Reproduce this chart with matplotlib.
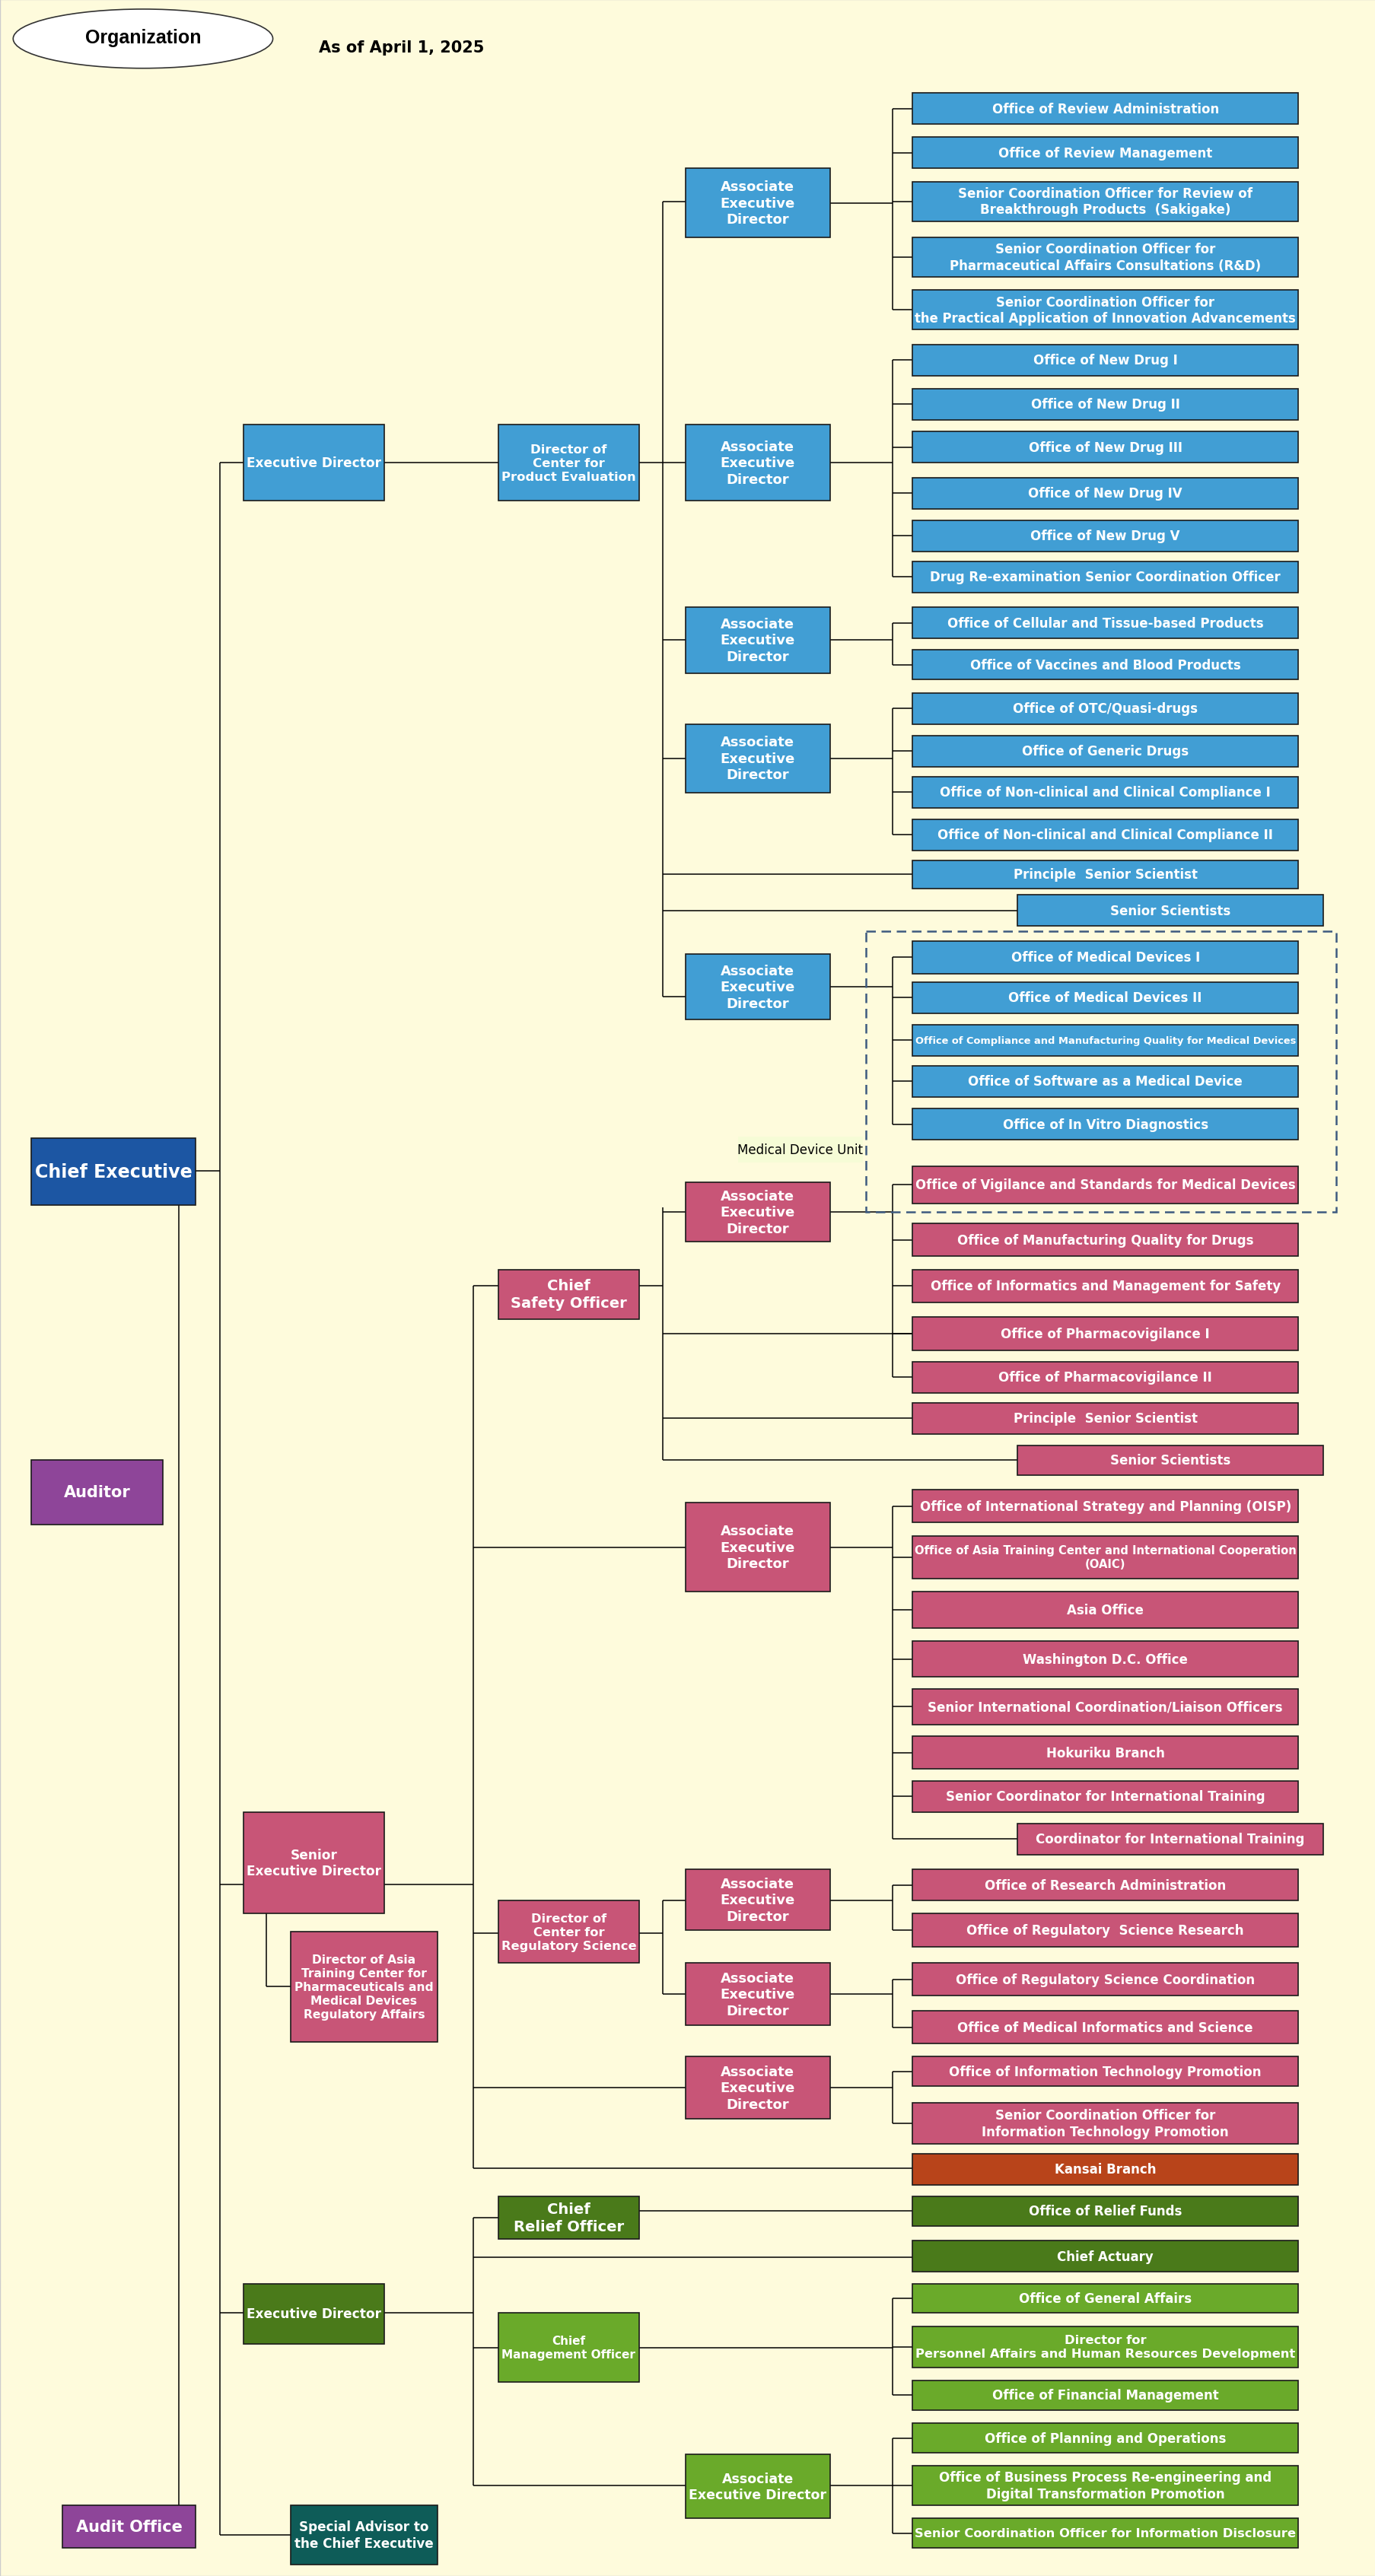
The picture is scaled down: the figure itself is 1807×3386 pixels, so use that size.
import matplotlib
matplotlib.use("Agg")
import matplotlib.pyplot as plt
from matplotlib.patches import Rectangle, Ellipse
from matplotlib import font_manager as fm

names = {f.name for f in fm.fontManager.ttflist}
FONT = "Liberation Sans Narrow" if "Liberation Sans Narrow" in names else "DejaVu Sans Condensed" if "DejaVu Sans Condensed" in names else "DejaVu Sans"

BLUE = "#419ED4"; PINK = "#C85577"; DGREEN = "#4A7A1A"; LGREEN = "#6AAA2A"
ORANGE = "#B8441A"; NAVY = "#1C56A3"; PURPLE = "#8E4599"; TEAL = "#0E5C58"
BG = "#FEFBDC"

W, H = 837, 1568
fig = plt.figure(figsize=(18.08, 33.87), dpi=100)
fig.patch.set_facecolor(BG)
ax = fig.add_axes([0, 0, 1, 1])
ax.set_xlim(0, W); ax.set_ylim(H, 0); ax.axis("off")
ax.add_patch(Rectangle((0, 0), W, H, facecolor=BG, edgecolor="#cccccc", lw=1))

OX0, OX1 = 555, 790
SX0, SX1 = 619, 805

# (label, x0, y0, x1, y1, color, fontsize)
boxes = [
    ("Chief Executive", 19, 693, 119, 734, NAVY, 19),
    ("Auditor", 19, 889, 99, 928, PURPLE, 15),
    ("Audit Office", 38, 1525, 119, 1551, PURPLE, 15),
    ("Special Advisor to\nthe Chief Executive", 177, 1525, 266, 1561, TEAL, 14),
    ("Executive Director", 148, 259, 234, 305, BLUE, 15),
    ("Director of\nCenter for\nProduct Evaluation", 303, 259, 389, 305, BLUE, 14),
    ("Associate\nExecutive\nDirector", 417, 103, 505, 145, BLUE, 13),
    ("Associate\nExecutive\nDirector", 417, 259, 505, 305, BLUE, 13),
    ("Associate\nExecutive\nDirector", 417, 370, 505, 410, BLUE, 13),
    ("Associate\nExecutive\nDirector", 417, 441, 505, 483, BLUE, 13),
    ("Associate\nExecutive\nDirector", 417, 581, 505, 621, BLUE, 13),
    ("Associate\nExecutive\nDirector", 417, 720, 505, 756, PINK, 13),
    ("Chief\nSafety Officer", 303, 773, 389, 803, PINK, 14),
    ("Associate\nExecutive\nDirector", 417, 915, 505, 969, PINK, 13),
    ("Senior\nExecutive Director", 148, 1103, 234, 1165, PINK, 15),
    ("Director of Asia\nTraining Center for\nPharmaceuticals and\nMedical Devices\nRegulatory Affairs", 177, 1176, 266, 1243, PINK, 14),
    ("Director of\nCenter for\nRegulatory Science", 303, 1157, 389, 1195, PINK, 14),
    ("Associate\nExecutive\nDirector", 417, 1138, 505, 1175, PINK, 13),
    ("Associate\nExecutive\nDirector", 417, 1195, 505, 1233, PINK, 13),
    ("Associate\nExecutive\nDirector", 417, 1252, 505, 1290, PINK, 13),
    ("Executive Director", 148, 1390, 234, 1427, DGREEN, 15),
    ("Chief\nRelief Officer", 303, 1337, 389, 1363, DGREEN, 14),
    ("Chief\nManagement Officer", 303, 1408, 389, 1450, LGREEN, 14),
    ("Associate\nExecutive Director", 417, 1494, 505, 1533, LGREEN, 14),
]

office_labels = [
    "Office of Review Administration", "Office of Review Management",
    "Senior Coordination Officer for Review of\nBreakthrough Products  (Sakigake)",
    "Senior Coordination Officer for\nPharmaceutical Affairs Consultations (R&D)",
    "Senior Coordination Officer for\nthe Practical Application of Innovation Advancements",
    "Office of New Drug I", "Office of New Drug II", "Office of New Drug III",
    "Office of New Drug IV", "Office of New Drug V", "Drug Re-examination Senior Coordination Officer",
    "Office of Cellular and Tissue-based Products", "Office of Vaccines and Blood Products",
    "Office of OTC/Quasi-drugs", "Office of Generic Drugs",
    "Office of Non-clinical and Clinical Compliance I", "Office of Non-clinical and Clinical Compliance II",
    "Principle  Senior Scientist", "Senior Scientists",
    "Office of Medical Devices I", "Office of Medical Devices II",
    "Office of Compliance and Manufacturing Quality for Medical Devices",
    "Office of Software as a Medical Device", "Office of In Vitro Diagnostics",
    "Office of Vigilance and Standards for Medical Devices", "Office of Manufacturing Quality for Drugs",
    "Office of Informatics and Management for Safety", "Office of Pharmacovigilance I",
    "Office of Pharmacovigilance II", "Principle  Senior Scientist", "Senior Scientists",
    "Office of International Strategy and Planning (OISP)",
    "Office of Asia Training Center and International Cooperation\n(OAIC)",
    "Asia Office", "Washington D.C. Office", "Senior International Coordination/Liaison Officers",
    "Hokuriku Branch", "Senior Coordinator for International Training", "Coordinator for International Training",
    "Office of Research Administration", "Office of Regulatory  Science Research",
    "Office of Regulatory Science Coordination", "Office of Medical Informatics and Science",
    "Office of Information Technology Promotion",
    "Senior Coordination Officer for\nInformation Technology Promotion",
    "Kansai Branch",
    "Office of Relief Funds", "Chief Actuary", "Office of General Affairs",
    "Director for\nPersonnel Affairs and Human Resources Development",
    "Office of Financial Management", "Office of Planning and Operations",
    "Office of Business Process Re-engineering and\nDigital Transformation Promotion",
    "Senior Coordination Officer for Information Disclosure",
]
office_y = [
    (57, 76), (84, 103), (111, 135), (145, 169), (177, 201),
    (210, 229), (237, 256), (263, 282), (291, 310), (317, 336), (342, 361),
    (370, 389), (396, 414), (422, 441), (448, 467), (473, 492), (499, 518),
    (524, 541), (545, 564),
    (573, 593), (598, 617), (624, 643), (649, 668), (675, 694),
    (710, 733), (745, 765), (773, 793), (802, 822), (829, 848), (854, 873), (880, 898),
    (907, 927), (935, 961), (969, 991), (999, 1021), (1028, 1050), (1057, 1077), (1084, 1103), (1110, 1129),
    (1138, 1157), (1165, 1185), (1195, 1215), (1224, 1244), (1252, 1270), (1280, 1305),
    (1311, 1330),
    (1337, 1355), (1364, 1383), (1390, 1408), (1416, 1441), (1449, 1467),
    (1475, 1493), (1501, 1525), (1533, 1551),
]
wide_idx = {18, 30, 38}
office_col = ([BLUE] * 24) + ([PINK] * 21) + [ORANGE] + [DGREEN, DGREEN] + [LGREEN] * 6

for i, (lab, (y0, y1), c) in enumerate(zip(office_labels, office_y, office_col)):
    x0, x1 = (SX0, SX1) if i in wide_idx else (OX0, OX1)
    boxes.append((lab, x0, y0, x1, y1, c, 12))

fig.canvas.draw()
rend = fig.canvas.get_renderer()
px_per_unit = fig.bbox.width / W

def line(x0, y0, x1, y1):
    ax.plot([x0, x1], [y0, y1], color="black", lw=1.1, zorder=1, solid_capstyle="butt")

for lab, x0, y0, x1, y1, c, fs in boxes:
    ax.add_patch(Rectangle((x0, y0), x1 - x0, y1 - y0, facecolor=c, edgecolor="#1a1a1a", lw=1.2, zorder=3))
    t = ax.text((x0 + x1) / 2, (y0 + y1) / 2, lab, ha="center", va="center", color="white",
                fontsize=fs, fontweight="bold", family=FONT, zorder=4, linespacing=1.25)
    bb = t.get_window_extent(rend)
    maxw = (x1 - x0 - 4) * px_per_unit
    maxh = (y1 - y0 - 1) * px_per_unit
    s = min(1.0, maxw / bb.width, maxh / bb.height)
    if s < 1:
        t.set_fontsize(fs * s)

def mid(i):
    y0, y1 = office_y[i]
    return (y0 + y1) / 2

def bracket(px, py, xv, idxs, xend=OX0):
    ys = [mid(i) for i in idxs]
    line(px, py, xv, py)
    line(xv, min(ys + [py]), xv, max(ys + [py]))
    for i, y in zip(idxs, ys):
        line(xv, y, SX0 if i in wide_idx else xend, y)

# top-level spine
line(134, 282, 134, 1543)
line(119, 713, 134, 713)
line(134, 282, 148, 282)
line(134, 1147, 148, 1147)
line(134, 1408, 148, 1408)
line(134, 1543, 177, 1543)
line(109, 734, 109, 1538)
line(109, 1538, 38, 1538)
line(234, 282, 303, 282)
# product evaluation
line(389, 282, 403, 282)
line(403, 123, 403, 607)
for y in [123, 282, 390, 462, 607]:
    line(403, y, 417, y)
for i in [17, 18]:
    line(403, mid(i), SX0 if i in wide_idx else OX0, mid(i))
bracket(505, 124, 543, [0, 1, 2, 3, 4])
bracket(505, 282, 543, [5, 6, 7, 8, 9, 10])
bracket(505, 390, 543, [11, 12])
bracket(505, 462, 543, [13, 14, 15, 16])
bracket(505, 601, 543, [19, 20, 21, 22, 23])
# safety
line(234, 1147, 288, 1147)
line(288, 783, 288, 1320)
line(288, 783, 303, 783)
line(389, 783, 403, 783)
line(403, 735, 403, 889)
line(403, 738, 417, 738)
for i in [27, 29, 30]:
    line(403, mid(i), SX0 if i in wide_idx else OX0, mid(i))
bracket(505, 738, 543, [24, 25, 26, 28])
line(543, mid(27), OX0, mid(27))
# international
line(288, 942, 417, 942)
bracket(505, 942, 543, list(range(31, 39)))
# regulatory science
line(288, 1177, 303, 1177)
line(389, 1177, 403, 1177)
line(403, 1157, 403, 1214)
line(403, 1157, 417, 1157)
line(403, 1214, 417, 1214)
bracket(505, 1157, 543, [39, 40])
bracket(505, 1214, 543, [41, 42])
line(288, 1271, 417, 1271)
bracket(505, 1271, 543, [43, 44])
line(288, 1320, OX0, 1320)
# Asia training
line(162, 1165, 162, 1209)
line(162, 1209, 177, 1209)
# green
line(234, 1408, 288, 1408)
line(288, 1350, 288, 1513)
line(288, 1350, 303, 1350)
line(389, 1346, OX0, 1346)
line(288, 1374, OX0, 1374)
line(288, 1429, 303, 1429)
bracket(389, 1429, 543, [48, 49, 50])
line(288, 1513, 417, 1513)
bracket(505, 1513, 543, [51, 52, 53])

# medical device unit
ax.add_patch(Rectangle((527, 567), 813 - 527, 738 - 567, fill=False, edgecolor="#3d5a80",
                       lw=1.8, ls=(0, (5, 3)), zorder=5))
ax.add_patch(Rectangle((449, 692), 76, 16, facecolor="#F6FCD6", edgecolor="none", zorder=2))
ax.text(487, 700, "Medical Device Unit", ha="center", va="center", fontsize=12, family=FONT, zorder=6)

# title
ax.add_patch(Ellipse((87, 24), 158, 36, facecolor="white", edgecolor="#333333", lw=1.2))
ax.text(87, 23, "Organization", ha="center", va="center", fontsize=18, fontweight="bold", family="Liberation Sans")
ax.text(194, 29, "As of April 1, 2025", ha="left", va="center", fontsize=15, fontweight="bold", family=FONT)

fig.savefig("out.png", dpi=100, facecolor=BG)
